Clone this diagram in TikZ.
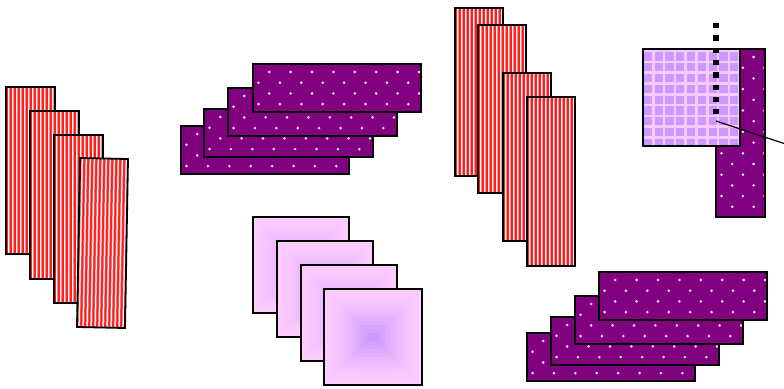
\documentclass[tikz,border=0pt]{standalone}
\usetikzlibrary{calc}
\definecolor{stripered}{RGB}{255,30,30}
\definecolor{stripepink}{RGB}{255,140,140}
\definecolor{dotpurple}{RGB}{128,0,128}
\definecolor{dotwhite}{RGB}{255,230,255}
\definecolor{lavender}{RGB}{204,153,255}
\definecolor{pinklight}{RGB}{255,204,255}
\definecolor{gridline}{RGB}{248,200,255}
\tikzset{
  outline/.style={draw=black, line width=1.8pt, line join=miter},
}
% striped box: x1 y1 x2 y2
\newcommand{\stripebox}[4]{%
  \begin{scope}
    \clip (#1,#2) rectangle (#3,#4);
    \fill[stripered] (#1,#2) rectangle (#3,#4);
    \foreach \i in {0,...,12} {
      \draw[stripepink, line width=2pt] ({#1+2.5+4*\i},#2) -- ({#1+2.5+4*\i},#4);
      \draw[white, line width=1pt] ({#1+2.5+4*\i},#2) -- ({#1+2.5+4*\i},#4);
    }
  \end{scope}
  \draw[outline] (#1,#2) rectangle (#3,#4);
}
% dotted box: x1 y1 x2 y2 ni nj
\newcommand{\dotbox}[6]{%
  \begin{scope}
    \clip (#1,#2) rectangle (#3,#4);
    \fill[dotpurple] (#1,#2) rectangle (#3,#4);
    \foreach \i in {0,...,#5} {
      \foreach \j in {0,...,#6} {
        \pgfmathtruncatemacro\dpar{mod(\i+\j,2)}
        \ifnum\dpar=1
          \fill[dotwhite] ({#1+5.5+10.7*\i},{#2+8+10.7*\j}) circle (1.4);
        \fi
      }
    }
  \end{scope}
  \draw[outline] (#1,#2) rectangle (#3,#4);
}
% gradient square: x1 y1 x2 y2
\newcommand{\gradbox}[4]{%
  \foreach \k in {0,...,11} {
    \pgfmathtruncatemacro\gp{100*(\k/11)^1.4}
    \fill[lavender!\gp!pinklight] ({#1+4*\k},{#2+4*\k}) rectangle ({#3-4*\k},{#4-4*\k});
  }
  \draw[outline] (#1,#2) rectangle (#3,#4);
}
\begin{document}
\begin{tikzpicture}[x=1pt,y=-1pt]
\useasboundingbox (0,0) rectangle (784,388);

% left striped group
\stripebox{6}{87}{55}{254}
\stripebox{30}{111}{79}{279}
\stripebox{54}{135}{103}{303}
\begin{scope}
  \clip (80,158) -- (128,159) -- (125,328) -- (77,327) -- cycle;
  \fill[stripered] (70,150) rectangle (135,335);
  \foreach \i in {0,...,12} {
    \draw[stripepink, line width=2pt] ({82.5+4*\i},150) -- ({79+4*\i},335);
    \draw[white, line width=1pt] ({82.5+4*\i},150) -- ({79+4*\i},335);
  }
\end{scope}
\draw[outline] (80,158) -- (128,159) -- (125,328) -- (77,327) -- cycle;

% top middle dotted group
\dotbox{181}{126}{349}{174}{16}{4}
\dotbox{204}{109}{373}{157}{16}{4}
\dotbox{228}{88}{397}{136}{16}{4}
\dotbox{253}{64}{421}{112}{16}{4}

% gradient squares
\gradbox{253}{217}{349}{313}
\gradbox{277}{241}{373}{337}
\gradbox{301}{265}{397}{361}
\gradbox{324}{289}{422}{385}

% second striped group
\stripebox{455}{8}{503}{176}
\stripebox{478}{25}{526}{193}
\stripebox{503}{73}{551}{241}
\stripebox{527}{97}{575}{266}

% right top: tall dotted rect and grid square
\dotbox{716}{49}{765}{217}{4}{15}
\begin{scope}
  \clip (643,49) rectangle (740,146);
  \fill[lavender] (643,49) rectangle (740,146);
  \foreach \i in {-1,...,9} {
    \draw[gridline, line width=2.6pt] ({653.3+10.8*\i},49) -- ({653.3+10.8*\i},146);
    \draw[gridline, line width=2.6pt] (643,{51+10.8*\i}) -- (740,{51+10.8*\i});
  }
\end{scope}
\draw[outline] (643,49) rectangle (740,146);
\coordinate (dtop) at (716,23);
\coordinate (dbot) at (716,116);
\draw[black, line width=5.3pt, dash pattern=on 5.3pt off 7pt] (dtop) -- (dbot);
\coordinate (lstart) at (716,121);
\coordinate (lend) at (784,143.5);
\draw[black, line width=1.2pt] (lstart) -- (lend);

% bottom right dotted group
\dotbox{527}{333}{695}{381}{16}{4}
\dotbox{551}{317}{719}{365}{16}{4}
\dotbox{575}{296}{743}{344}{16}{4}
\dotbox{599}{272}{767}{320}{16}{4}
\end{tikzpicture}
\end{document}
